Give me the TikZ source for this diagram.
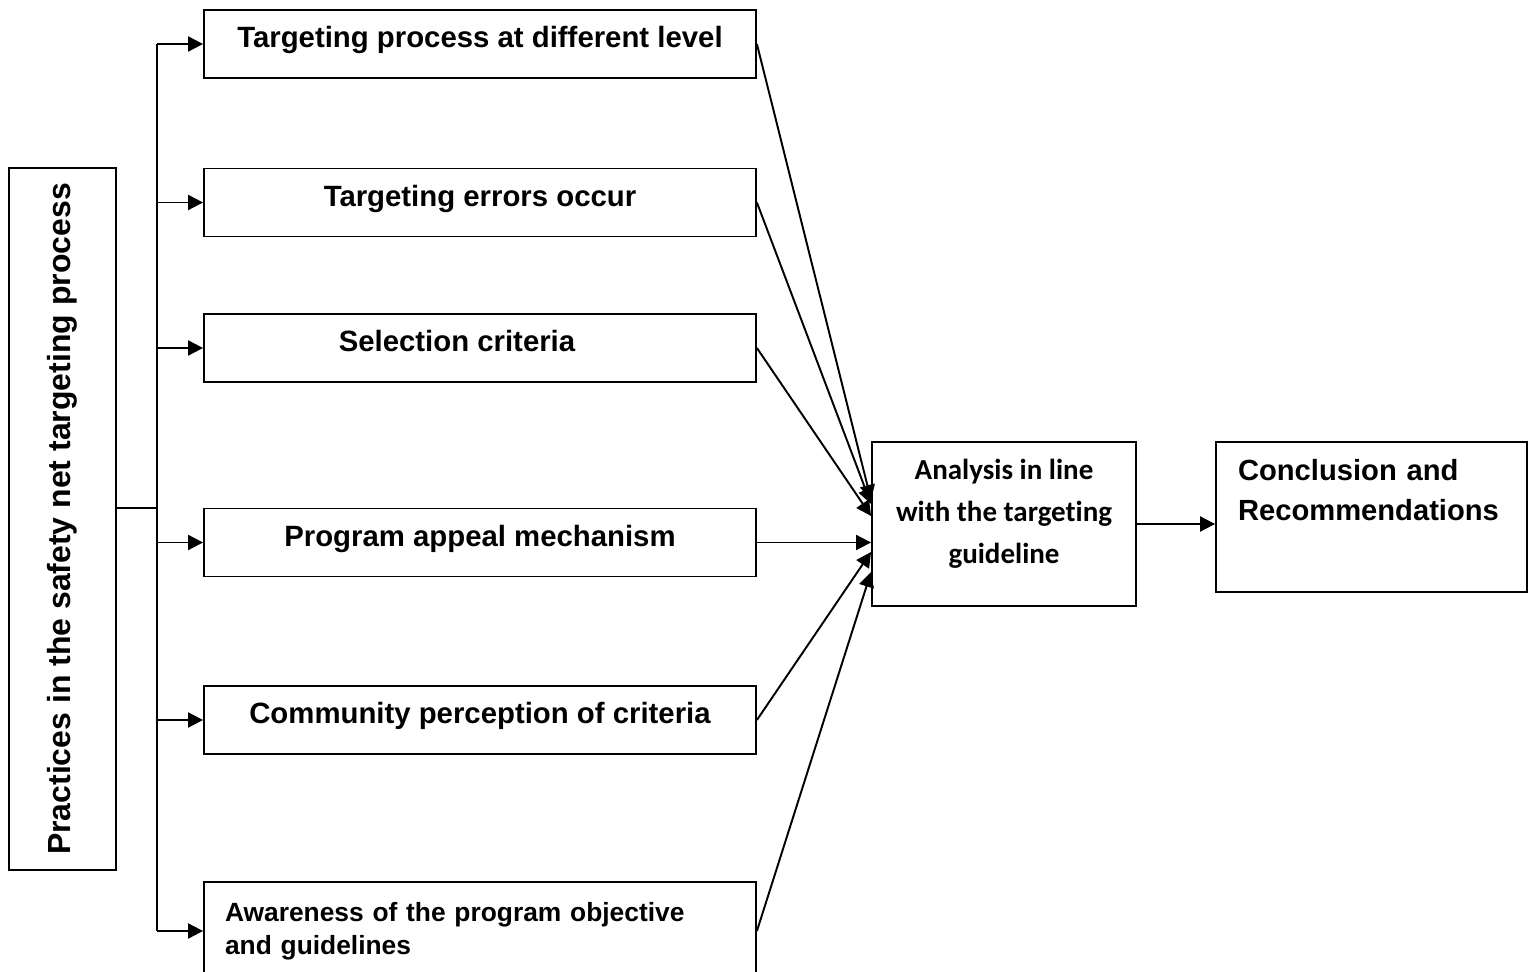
\documentclass[tikz,border=0pt]{standalone}
\usepackage{fontspec}
\setmainfont{Liberation Sans}
\newfontfamily\calibrifont[Ligatures=NoCommon]{Carlito}
\usetikzlibrary{arrows.meta}

\begin{document}
\begin{tikzpicture}[x=0.02cm, y=-0.02cm, line width=1.1pt,
  box/.style={draw, minimum width=11.04cm, minimum height=1.36cm, inner sep=0pt, text height=0.5cm, text depth=0.34cm, font=\bfseries\fontsize{16.7}{20}\selectfont},
  arr/.style={-{Triangle[length=0.3cm,width=0.3cm]}}]
\useasboundingbox (0,0) rectangle (1528,972);
\node[draw, rotate=90, minimum width=14.04cm, minimum height=2.14cm, font=\bfseries\fontsize{18.2}{22}\selectfont] (practices) at (62.5,519){Practices in the safety net targeting process};
\node[box] (b1) at (480,44){Targeting process at different level};
\node[box] (b2) at (480,202.5){Targeting errors occur};
\node[box] (b3) at (480,348){Selection criteria\hspace*{0.92cm}};
\node[box] (b4) at (480,542.5){Program appeal mechanism};
\node[box] (b5) at (480,720){Community perception of criteria};
\node[box, minimum height=1.96cm, text height=, text depth=, text width=10.2cm, align=left, font=\bfseries\fontsize{15}{18.7}\selectfont] (b6) at (480,931){Awareness of the program objective\\and guidelines};
\node[draw, minimum width=5.28cm, minimum height=3.28cm, text depth=0.5cm, align=center, font=\calibrifont\bfseries\fontsize{16.5}{23.8}\selectfont] (analysis) at (1004,524){Analysis in line\\with the targeting\\guideline};
\node[draw, minimum width=6.22cm, minimum height=3cm, inner sep=0pt, text depth=53.3pt, text width=5.34cm, align=left, font=\bfseries\fontsize{16.6}{22.7}\selectfont] (concl) at (1371.5,517){Conclusion and\\Recommendations\\\mbox{}};
\coordinate (trunk) at (157,0);
% left trunk
\draw (b1.west -| trunk) -- (b6.west -| trunk);
\draw ([yshift=0.22cm]practices.south) -- ([yshift=0.22cm]practices.south -| trunk);
\draw[arr] (b1.west -| trunk) -- (b1.west);
\draw[arr] (b2.west -| trunk) -- (b2.west);
\draw[arr] (b3.west -| trunk) -- (b3.west);
\draw[arr] (b4.west -| trunk) -- (b4.west);
\draw[arr] (b5.west -| trunk) -- (b5.west);
\draw[arr] (b6.west -| trunk) -- (b6.west);
% into the analysis box
\draw[arr] (b1.east) -- ([yshift=0.48cm]analysis.west);
\draw[arr] (b2.east) -- ([yshift=0.40cm]analysis.west);
\draw[arr] (b3.east) -- ([yshift=0.16cm]analysis.west);
\draw[arr] (b4.east) -- (b4.east -| analysis.west);
\draw[arr] (b5.east) -- ([yshift=-0.56cm]analysis.west);
\draw[arr] (b6.east) -- ([yshift=-0.96cm]analysis.west);
\draw[arr] (analysis.east) -- (analysis.east -| concl.west);
\end{tikzpicture}
\end{document}
